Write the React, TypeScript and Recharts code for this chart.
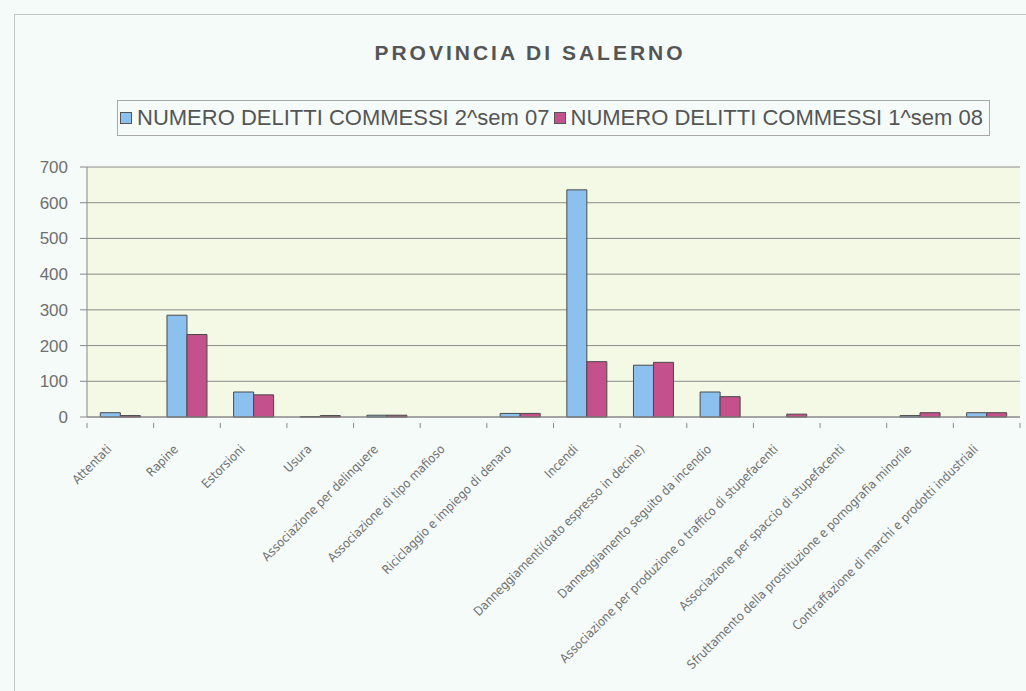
import React from "react";
import { BarChart, Bar, XAxis, YAxis, CartesianGrid } from "recharts";

const categories = [
  "Attentati",
  "Rapine",
  "Estorsioni",
  "Usura",
  "Associazione per delinquere",
  "Associazione di tipo mafioso",
  "Riciclaggio e impiego di denaro",
  "Incendi",
  "Danneggiamenti(dato espresso in decine)",
  "Danneggiamento seguito da incendio",
  "Associazione per produzione o traffico di stupefacenti",
  "Associazione per spaccio di stupefacenti",
  "Sfruttamento della prostituzione e pornografia minorile",
  "Contraffazione di marchi e prodotti industriali",
];

const sem2_07 = [12, 285, 70, 1, 5, 0, 10, 636, 145, 70, 0, 0, 4, 12];
const sem1_08 = [4, 231, 62, 4, 5, 0, 10, 155, 153, 57, 8, 0, 12, 12];

const yTicks = [0, 100, 200, 300, 400, 500, 600, 700];

const SERIES_A = "NUMERO DELITTI COMMESSI 2^sem 07";
const SERIES_B = "NUMERO DELITTI COMMESSI 1^sem 08";

const W = 1026;
const H = 691;
const X_AXIS_H = 274;
const margin = { top: 167, right: 6, bottom: 0, left: 0 };
const Y_AXIS_W = 87;
const band = (W - margin.left - margin.right - Y_AXIS_W) / categories.length;

const chartData = categories.map((c, i) => ({
  name: c,
  a: sem2_07[i],
  b: sem1_08[i],
}));

// category labels at 45°, tick marks on the category boundaries (Excel style)
function CategoryTick(props: any) {
  const { x, y, payload, index } = props;
  const ax = y - 2;
  const lx = x - 8;
  const ly = y + 25;
  return (
    <g>
      <line x1={x - band / 2} y1={ax} x2={x - band / 2} y2={ax + 5} stroke="#888" />
      {index === categories.length - 1 && (
        <line x1={x + band / 2} y1={ax} x2={x + band / 2} y2={ax + 5} stroke="#888" />
      )}
      <text
        x={lx}
        y={ly}
        transform={`rotate(-45, ${lx}, ${ly})`}
        textAnchor="end"
        fill="#707070"
        fontSize={12.5}
        fontFamily="'DejaVu Sans Condensed', 'Liberation Sans Narrow', sans-serif"
        style={{ fontStretch: "condensed" }}
      >
        {payload.value}
      </text>
    </g>
  );
}

function LegendBox() {
  const item = (color: string, label: string) => (
    <span style={{ display: "inline-flex", alignItems: "center", marginRight: 4 }}>
      <span
        style={{
          display: "inline-block",
          width: 10,
          height: 10,
          background: color,
          border: "1px solid #555",
          marginRight: 5,
        }}
      />
      {label}
    </span>
  );
  return (
    <div
      style={{
        position: "absolute",
        left: 117,
        top: 100,
        width: 873,
        height: 36,
        boxSizing: "border-box",
        border: "1px solid #a8a8a8",
        display: "flex",
        alignItems: "center",
        justifyContent: "center",
        fontFamily: "'Liberation Sans', Arial, sans-serif",
        fontSize: 22,
        color: "#555",
        whiteSpace: "nowrap",
      }}
    >
      {item("#8cc0ee", SERIES_A)}
      {item("#c4508c", SERIES_B)}
    </div>
  );
}

export default function App() {
  return (
    <div
      style={{
        position: "absolute",
        left: 0,
        top: 0,
        width: W,
        height: H,
        background: "#f4fbf9",
        overflow: "hidden",
      }}
    >
      <div
        style={{
          position: "absolute",
          left: 14,
          top: 14,
          width: W,
          height: H,
          border: "1px solid #c4c8c4",
        }}
      />
      <div
        style={{
          position: "absolute",
          left: 0,
          width: 1060,
          top: 41,
          textAlign: "center",
          fontFamily: "'Liberation Sans', Arial, sans-serif",
          fontWeight: "bold",
          fontSize: 21,
          letterSpacing: 3,
          color: "#555",
        }}
      >
        PROVINCIA DI SALERNO
      </div>
      <LegendBox />
      <div style={{ position: "absolute", left: 0, top: 0 }}>
        <BarChart
          width={W}
          height={H}
          data={chartData}
          margin={margin}
          barGap={0}
          barCategoryGap="20%"
        >
          <CartesianGrid vertical={false} stroke="#8a8a8a" fill="#f3f9e4" />
          <XAxis
            dataKey="name"
            interval={0}
            tickLine={false}
            axisLine={{ stroke: "#888" }}
            tick={<CategoryTick />}
            height={X_AXIS_H}
          />
          <YAxis
            width={Y_AXIS_W}
            domain={[0, 700]}
            ticks={yTicks}
            tickSize={7}
            tickMargin={12}
            tickLine={{ stroke: "#888" }}
            axisLine={{ stroke: "#888" }}
            tick={{
              fill: "#707070",
              fontSize: 17,
              fontFamily: "'Liberation Sans', Arial, sans-serif",
            }}
          />
          <Bar
            dataKey="a"
            name={SERIES_A}
            fill="#8cc0ee"
            stroke="#4a4a4a"
            strokeWidth={1}
            isAnimationActive={false}
          />
          <Bar
            dataKey="b"
            name={SERIES_B}
            fill="#c4508c"
            stroke="#4a4a4a"
            strokeWidth={1}
            isAnimationActive={false}
          />
        </BarChart>
      </div>
    </div>
  );
}
